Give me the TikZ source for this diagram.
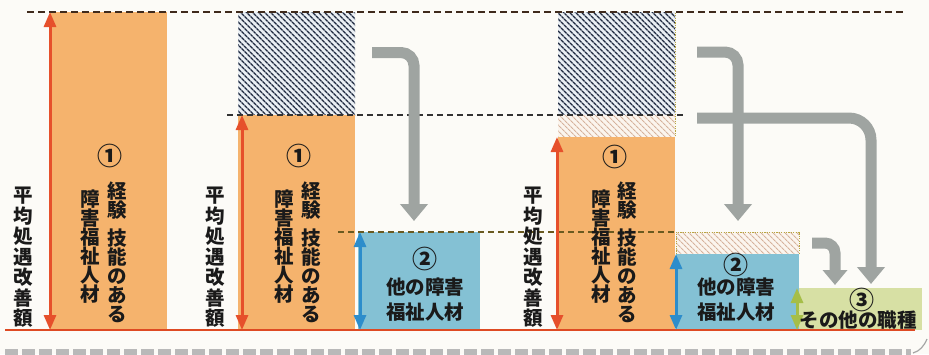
\documentclass[tikz,border=0pt]{standalone}
\usepackage{fontspec}
\newfontfamily\jp{Noto Sans CJK JP}
\usetikzlibrary{arrows.meta,patterns.meta}
\definecolor{pagebg}{HTML}{FCFBF7}
\definecolor{barorange}{HTML}{F5B36D}
\definecolor{barblue}{HTML}{84C1D4}
\definecolor{bargreen}{HTML}{D7E0A4}
\definecolor{arrred}{HTML}{E6502B}
\definecolor{arrblue}{HTML}{2D8DCB}
\definecolor{arrgreen}{HTML}{A6BE48}
\definecolor{flowgray}{HTML}{9FA4A1}
\definecolor{navyhatch}{HTML}{1F2940}
\definecolor{hatchbg}{HTML}{EAEFF4}
\definecolor{lighthatch}{HTML}{D6B29C}
\definecolor{lighthatchbg}{HTML}{FBF5EE}
\definecolor{dotolive}{HTML}{B9A640}
\definecolor{topdash}{HTML}{3F2A1C}
\definecolor{midline}{HTML}{333333}
\definecolor{yline}{HTML}{6A5A20}
\definecolor{baseln}{HTML}{DE4A23}
\definecolor{txt}{HTML}{1A1A1A}
\tikzset{
  jpt/.style={font={\jp\bfseries\fontsize{19.5}{19}\selectfont\lineskiplimit=-20pt}, text=txt, inner sep=0pt, align=center},
  circnum/.style={font={\jp\bfseries\fontsize{25}{25}\selectfont}, text=txt, inner sep=0pt},
  vcol/.style={jpt, anchor=north},
  lbl/.style={font={\jp\bfseries\fontsize{19.5}{20.5}\selectfont\lineskiplimit=-20pt}, text=txt, inner sep=0pt, align=center, anchor=north},
  darkhatch/.style={pattern={Lines[angle=-45,distance=4pt,line width=1.6pt]}, pattern color=navyhatch},
  lighthatchp/.style={pattern={Lines[angle=-45,distance=4pt,line width=1.1pt]}, pattern color=lighthatch},
  dotborder/.style={draw=dotolive, line width=0.9pt, dash pattern=on 1.2pt off 1.2pt},
  dblarrow/.style={line width=3pt, {Triangle[width=12pt,length=15pt]}-{Triangle[width=12pt,length=15pt]}},
  redarrow/.style={dblarrow, arrred},
  bluearrow/.style={dblarrow, arrblue},
  greenarrow/.style={dblarrow, arrgreen},
  flowarrow/.style={draw=flowgray, line width=11pt, rounded corners=13pt, -{Triangle[width=27pt,length=17pt]}},
  lvldash/.style={line width=1.7pt, dash pattern=on 6pt off 4pt},
}
\begin{document}
\begin{tikzpicture}[x=1pt,y=-1pt]
\useasboundingbox (0,0) rectangle (929,354);
\fill[pagebg] (0,0) rectangle (929,354);

% ---------- bars ----------
% panel 1
\fill[barorange] (50,12) rectangle (167,330);
% panel 2
\fill[hatchbg] (238,12) rectangle (355,115);
\fill[darkhatch] (238,12) rectangle (355,115);
\fill[barorange] (238,115) rectangle (355,330);
\fill[barblue] (358,232) rectangle (480,330);
% panel 3
\fill[hatchbg] (558,12) rectangle (675,115);
\fill[darkhatch] (558,12) rectangle (675,115);
\fill[lighthatchbg] (558,115) rectangle (675,137);
\fill[lighthatchp] (558,115) rectangle (675,137);
\draw[dotborder] (558,137) -- (675,137) -- (675,12);
\fill[barorange] (558,137) rectangle (675,330);
\fill[lighthatchbg] (676,232) rectangle (799,254);
\fill[lighthatchp] (676,232) rectangle (799,254);
\draw[dotborder] (676,254) -- (676,232) -- (799,232) -- (799,254);
\fill[barblue] (676,254) rectangle (799,330);
\fill[bargreen] (799,288) rectangle (922,330);

% ---------- level lines ----------
\draw[topdash, line width=2.4pt, dash pattern=on 7pt off 4pt] (27,12) -- (905,12);
\draw[midline, lvldash] (227,115) -- (683,115);
\draw[yline, lvldash] (338,232) -- (676,232);
\draw[baseln, line width=2.6pt] (5,330) -- (915,330);
\draw[gray!55, line width=7pt, dash pattern=on 13pt off 4pt] (5,352) -- (911,352);
\draw[gray!70, line width=1.2pt] (913,353) .. controls (920,351) and (924,346) .. (927,339);

% ---------- coordinates ----------
\coordinate (r1t) at (50,12);  \coordinate (r1b) at (50,330);
\coordinate (r2t) at (242,115); \coordinate (r2b) at (242,330);
\coordinate (r3t) at (557,137); \coordinate (r3b) at (557,330);
\coordinate (b2t) at (360,232); \coordinate (b2b) at (360,330);
\coordinate (b3t) at (676,254); \coordinate (b3b) at (676,330);
\coordinate (g3t) at (797,288); \coordinate (g3b) at (797,330);

\coordinate (f1s) at (372,52.5); \coordinate (f1c) at (414,52.5); \coordinate (f1e) at (414,221);
\coordinate (fas) at (697,52);   \coordinate (fac) at (738,52);   \coordinate (fae) at (738,221);
\coordinate (fbs) at (697,118);  \coordinate (fbc) at (871,118);  \coordinate (fbe) at (871,284);
\coordinate (fcs) at (812,243);  \coordinate (fcc) at (835,243);  \coordinate (fce) at (835,285);

% ---------- arrows ----------
\draw[redarrow] (r1t) -- (r1b);
\draw[redarrow] (r2t) -- (r2b);
\draw[redarrow] (r3t) -- (r3b);
\draw[bluearrow] (b2t) -- (b2b);
\draw[bluearrow] (b3t) -- (b3b);
\draw[greenarrow] (g3t) -- (g3b);

\draw[flowarrow] (f1s) -- (f1c) -- (f1e);
\draw[flowarrow, rounded corners=22pt] (fbs) -- (fbc) -- (fbe);
\draw[flowarrow] (fas) -- (fac) -- (fae);
\draw[flowarrow, rounded corners=10pt, -{Triangle[width=24pt,length=15pt]}] (fcs) -- (fcc) -- (fce);

% ---------- texts ----------
% panel 1
\node[lbl] (l1) at (23,187) {平\\均\\処\\遇\\改\\善\\額};
\node[circnum] (c1) at (110,156) {①};
\node[vcol] (a1) at (117,182) {経\\験\\[9pt]技\\能\\の\\あ\\る};
\node[vcol] (h1) at (90,190) {障\\害\\福\\祉\\人\\材};
% panel 2
\node[lbl] (l2) at (215,187) {平\\均\\処\\遇\\改\\善\\額};
\node[circnum] (c2) at (299,156) {①};
\node[vcol] (a2) at (311,182) {経\\験\\[9pt]技\\能\\の\\あ\\る};
\node[vcol] (h2) at (284,190) {障\\害\\福\\祉\\人\\材};
\node[circnum] (d2) at (425,259) {②};
\node[jpt] (o2) at (425,287) {他の障害};
\node[jpt] (w2) at (425,312) {福祉人材};
% panel 3
\node[lbl] (l3) at (533,187) {平\\均\\処\\遇\\改\\善\\額};
\node[circnum] (c3) at (615,157) {①};
\node[vcol] (a3) at (627,182) {経\\験\\[9pt]技\\能\\の\\あ\\る};
\node[vcol] (h3) at (601,190) {障\\害\\福\\祉\\人\\材};
\node[circnum] (d3) at (736,265) {②};
\node[jpt] (o3) at (736,287) {他の障害};
\node[jpt] (w3) at (736,312) {福祉人材};
\node[circnum] (t3) at (862,300) {③};
\node[jpt] (s3) at (858,320) {その他の職種};
\end{tikzpicture}
\end{document}
